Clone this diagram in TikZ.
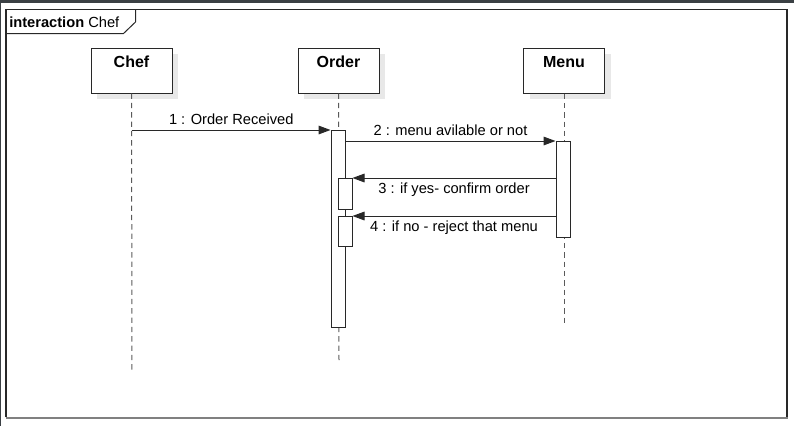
\documentclass[tikz,border=0pt]{standalone}
\usepackage{fontspec}
\setmainfont{Liberation Sans}
\usetikzlibrary{arrows.meta,positioning,shadows}
\definecolor{sqline}{RGB}{40,40,40}
\definecolor{sqdash}{RGB}{90,90,90}
\definecolor{sqbar}{RGB}{59,64,68}
\definecolor{sqshadow}{RGB}{232,232,232}
\tikzstyle{msg} = [line width=0.75pt, ->, >={Triangle[length=9pt,width=6.5pt]}, color=sqline]
\tikzstyle{lifehead} = [rectangle, minimum width=60.75pt, minimum height=33.75pt, inner sep=3pt, text height=11.25pt, text depth=16.5pt, draw=sqline, fill=white, line width=0.75pt, font=\fontsize{12}{14}\selectfont\bfseries, drop shadow={shadow xshift=4.5pt, shadow yshift=-4.5pt, fill=sqshadow, opacity=1}]
\tikzstyle{lifeline} = [line width=0.75pt, color=sqdash, dash pattern=on 4pt off 3pt]
\tikzstyle{actbar} = [rectangle, minimum width=10.5pt, inner sep=0pt, draw=sqline, fill=white, line width=0.75pt, anchor=north]

\begin{document}
\begin{tikzpicture}[x=0.75pt, y=-0.75pt, font=\fontsize{11}{13}\selectfont]
\useasboundingbox (0,0) rectangle (794,426);
% Window edge and frame
\fill[sqbar] (0,0) rectangle (794,3);
\fill[sqbar] (0,0) rectangle (1.5,426);
\draw[sqline, line width=1pt] (6,417) -- (6,9.5) -- (787,9.5) -- (787,417);
\draw[gray, line width=1.5pt] (5.5,417.5) -- (787.5,417.5);
\node (frametab) [anchor=west, inner sep=0pt] at (9,22) {\textbf{interaction} Chef};
\draw[sqline, line width=0.75pt] (6,33.5) -- (123.5,33.5) -- (135.5,22) -- (135.5,9.5);

% Lifeline heads
\node (chef) [lifehead] at (131.5,70.5) {Chef};
\node (order) [lifehead] at (338.5,70.5) {Order};
\node (menu) [lifehead] at (564,70.5) {Menu};

% Lifelines
\coordinate (chefend) at (132,372);
\coordinate (orderend) at (339,360);
\coordinate (menuend) at (564,326);
\draw[lifeline] (chef) -- (chefend);
\draw[lifeline] (order) -- (orderend);
\draw[lifeline] (menu) -- (menuend);

% Activations
\node (orderact) [actbar, minimum height=147.75pt] at (338,130) {};
\node (menuact) [actbar, minimum height=72pt] at (563,141) {};
\node (yesact) [actbar, minimum height=23.25pt] at (345,178) {};
\node (noact) [actbar, minimum height=22.5pt] at (345,216) {};

% Messages
\coordinate (chefsend) at (132,130);
\draw[msg] (chefsend) -- (orderact.north west) node[midway, above, color=black] {1 : Order Received};
\draw[msg] (orderact.east |- menuact.north) -- (menuact.north west) node[midway, above, color=black] {2 : menu avilable or not};
\draw[msg] (menuact.west |- yesact.north) -- (yesact.north east) node[midway, below, color=black] {3 : if yes- confirm order};
\draw[msg] (menuact.west |- noact.north) -- (noact.north east) node[midway, below, color=black] {4 : if no - reject that menu};
\end{tikzpicture}
\end{document}
